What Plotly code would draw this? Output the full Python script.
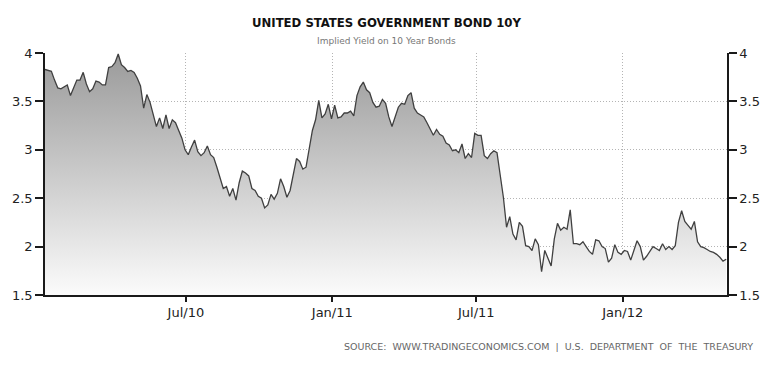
import pandas as pd
import plotly.graph_objects as go

# ---- data ----
start_date = "2010-01-05"
step = "4D"
yield_values = [
    3.83, 3.82, 3.81, 3.72, 3.64, 3.63, 3.65, 3.67, 3.56, 3.64,
    3.72, 3.72, 3.80, 3.68, 3.60, 3.63, 3.71, 3.70, 3.67, 3.67,
    3.85, 3.86, 3.90, 3.99, 3.88, 3.85, 3.81, 3.82, 3.80, 3.74,
    3.66, 3.43, 3.57, 3.49, 3.36, 3.24, 3.33, 3.22, 3.36, 3.22,
    3.31, 3.28, 3.20, 3.12, 3.00, 2.95, 3.03, 3.10, 2.98, 2.94,
    2.97, 3.04, 2.95, 2.92, 2.82, 2.71, 2.60, 2.62, 2.52, 2.60,
    2.48, 2.66, 2.78, 2.76, 2.73, 2.60, 2.58, 2.52, 2.50, 2.40,
    2.43, 2.54, 2.49, 2.55, 2.70, 2.62, 2.51, 2.58, 2.76, 2.91,
    2.88, 2.80, 2.82, 3.01, 3.20, 3.31, 3.51, 3.33, 3.37, 3.47,
    3.32, 3.46, 3.33, 3.34, 3.38, 3.38, 3.40, 3.35, 3.56, 3.65,
    3.70, 3.62, 3.59, 3.49, 3.44, 3.45, 3.52, 3.48, 3.34, 3.24,
    3.34, 3.44, 3.48, 3.47, 3.56, 3.59, 3.43, 3.38, 3.36, 3.34,
    3.28, 3.22, 3.15, 3.21, 3.16, 3.14, 3.07, 3.05, 2.99, 3.00,
    2.97, 3.06, 2.91, 2.96, 2.92, 3.17, 3.15, 3.15, 2.94, 2.91,
    2.96, 2.99, 2.97, 2.74, 2.51, 2.20, 2.31, 2.13, 2.07, 2.25,
    2.21, 2.01, 2.00, 1.96, 2.08, 2.02, 1.74, 1.96, 1.88, 1.80,
    2.08, 2.24, 2.17, 2.20, 2.18, 2.38, 2.03, 2.03, 2.02, 2.05,
    2.00, 1.95, 1.92, 2.07, 2.06, 2.00, 1.98, 1.84, 1.88, 2.02,
    1.94, 1.92, 1.96, 1.95, 1.86, 1.96, 2.06, 2.00, 1.86, 1.90,
    1.95, 2.00, 1.98, 1.96, 2.03, 1.97, 2.00, 1.97, 2.01, 2.25,
    2.37, 2.26, 2.22, 2.18, 2.26, 2.05, 2.00, 1.99, 1.97, 1.95,
    1.94, 1.92, 1.89, 1.85, 1.87,
]
dates = pd.date_range(start_date, periods=len(yield_values), freq=step)

x_range = ["2010-01-05", "2012-05-11"]
x_tick_vals = ["2010-07-01", "2011-01-01", "2011-07-01", "2012-01-01"]
x_tick_text = ["Jul/10", "Jan/11", "Jul/11", "Jan/12"]
y_tick_vals = [1.5, 2, 2.5, 3, 3.5, 4]
y_tick_text = ["1.5", "2", "2.5", "3", "3.5", "4"]
y_range = [1.5, 4]

title_text = "UNITED STATES GOVERNMENT BOND 10Y"
subtitle_text = "Implied Yield on 10 Year Bonds"
source_words = ["SOURCE:", "WWW.TRADINGECONOMICS.COM", "|", "U.S.",
                "DEPARTMENT", "OF", "THE", "TREASURY"]

# ---- figure ----
fig = go.Figure()
fig.add_trace(go.Scatter(
    x=dates, y=yield_values, mode="lines",
    line=dict(color="#404040", width=1.3),
    fill="tozeroy",
    fillgradient=dict(type="vertical", start=1.5, stop=4,
                      colorscale=[[0, "#fbfbfb"], [1, "#9a9a9a"]]),
    hoverinfo="x+y", showlegend=False,
))
# invisible trace so the right axis is drawn
fig.add_trace(go.Scatter(
    x=dates, y=yield_values, mode="lines", yaxis="y2",
    line=dict(width=0, color="rgba(0,0,0,0)"),
    hoverinfo="skip", showlegend=False,
))

font_family = "DejaVu Sans"
grid_dash = "1px,2px"
axis_common = dict(
    range=y_range, tickmode="array", tickvals=y_tick_vals, ticktext=y_tick_text,
    showgrid=True, gridcolor="#b4b4b4", griddash=grid_dash, gridwidth=1,
    showline=True, linecolor="#1a1a1a", linewidth=1.5,
    ticks="outside", ticklen=8, tickcolor="#1a1a1a", tickwidth=1.5,
    tickfont=dict(family=font_family, size=13, color="#222222"),
    zeroline=False, fixedrange=True, automargin=False,
)

source_text = "\u00a0\u00a0".join(source_words)

fig.update_layout(
    width=763, height=358,
    margin=dict(l=37, r=44, t=45, b=71, autoexpand=False),
    paper_bgcolor="white", plot_bgcolor="white",
    xaxis=dict(
        type="date", range=x_range, tickmode="array",
        tickvals=x_tick_vals, ticktext=x_tick_text,
        showgrid=True, gridcolor="#b4b4b4", griddash=grid_dash, gridwidth=1,
        showline=True, linecolor="#1a1a1a", linewidth=1.5,
        ticks="outside", ticklen=5, tickcolor="#1a1a1a", tickwidth=1.5,
        tickfont=dict(family=font_family, size=13, color="#222222"),
        zeroline=False, automargin=False,
    ),
    yaxis=dict(side="left", **axis_common),
    yaxis2=dict(side="right", overlaying="y", **axis_common),
    annotations=[
        dict(text="<b>" + title_text + "</b>", xref="paper", yref="paper",
             x=0.5, y=1.128, xanchor="center", yanchor="middle", showarrow=False,
             font=dict(family="DejaVu Sans Condensed, DejaVu Sans", size=13, color="#111111")),
        dict(text=subtitle_text, xref="paper", yref="paper",
             x=0.5, y=1.05, xanchor="center", yanchor="middle", showarrow=False,
             font=dict(family=font_family, size=9, color="#777777")),
        dict(text=source_text, xref="paper", yref="paper",
             x=1.041, y=-0.211, xanchor="right", yanchor="middle", showarrow=False,
             font=dict(family=font_family, size=9.5, color="#666666")),
    ],
)

fig.write_html("out.html")
